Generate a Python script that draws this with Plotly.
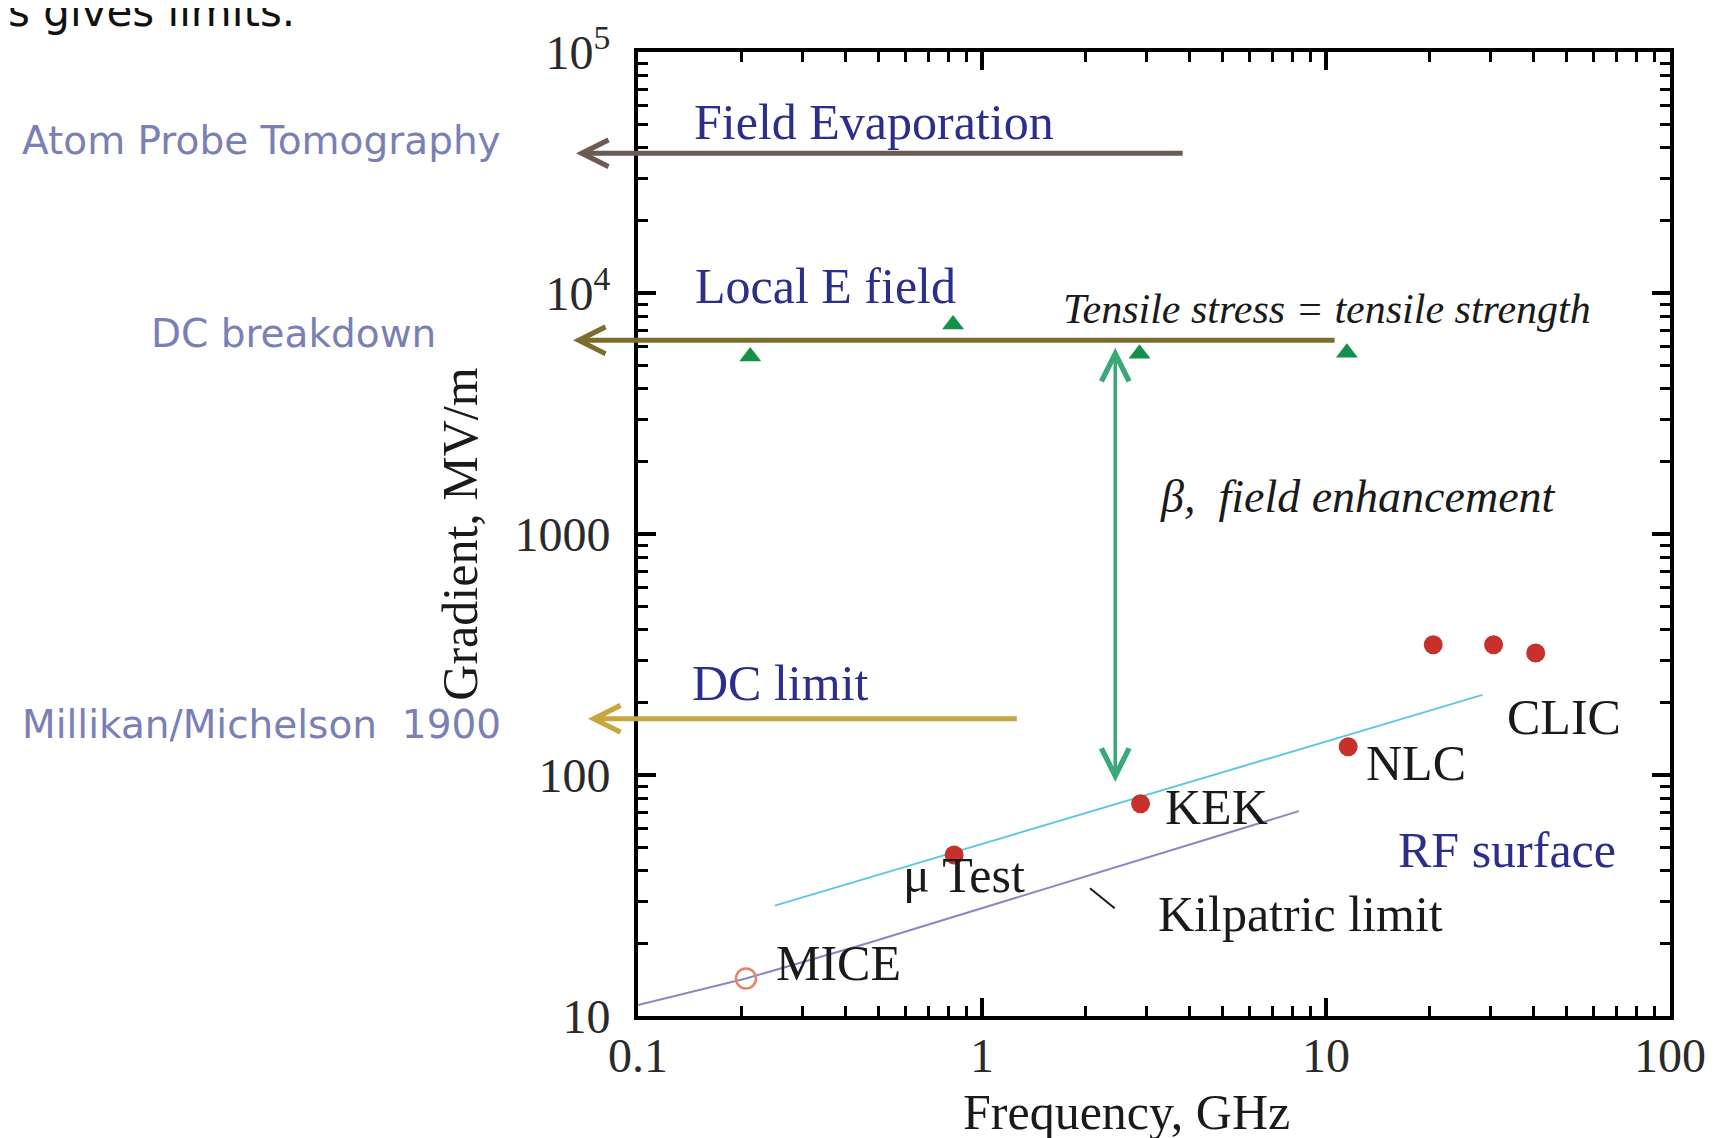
import math
import plotly.graph_objects as go

# ---------------- data ----------------
x_tick_vals = [0.1, 1, 10, 100]
x_tick_text = ["0.1", "1", "10", "100"]
y_tick_vals = [10, 100, 1000, 1e4, 1e5]
y_tick_text = ["10", "100", "1000", "10<sup>4</sup>", "10<sup>5</sup>"]

# RF accelerating structures (filled red dots), GHz / MV/m
rf_names = ["μ Test", "KEK", "NLC", "CLIC", "CLIC", "CLIC"]
rf_freq = [0.83, 2.89, 11.6, 20.5, 30.7, 40.7]
rf_grad = [46.6, 76, 131, 347, 347, 321]

# MICE (open circle)
mice_freq = [0.206]
mice_grad = [14.3]

# Local E field measurements (green triangles)
local_freq = [0.212, 0.824, 2.87, 11.5]
local_grad = [5450, 7400, 5600, 5650]

# RF surface trend line
rf_line_freq = [0.25, 28.5]
rf_line_grad = [28.7, 215]

# Kilpatric limit curve
kil_freq = [0.1, 0.206, 0.462, 1.84, 8.34]
kil_grad = [11.1, 14.3, 20.0, 36.6, 70.8]

# Kilpatric label leader tick
kil_leader_freq = [2.06, 2.43]
kil_leader_grad = [33.9, 28.0]

# Horizontal limits, drawn as arrows toward low frequency
limit_names = ["Field Evaporation", "Local E field", "DC limit"]
limit_grad = [38000, 6360, 171]
limit_fmax = [3.87, 10.7, 1.275]

# beta (field enhancement) double arrow
beta_freq = 2.44
beta_grad = [5930, 92.3]

# ---------------- layout / style ----------------
W, H = 1727, 1138
M = dict(l=630, r=65, t=44, b=130)
PW = W - M["l"] - M["r"]
PH = H - M["t"] - M["b"]
X_LOG_RANGE = [-1, 2]
Y_LOG_RANGE = [1, 5]

SERIF = "Liberation Serif, Times New Roman, serif"
HAND = "DejaVu Sans, sans-serif"
NAVY = "#2b2e8a"
SLATE = "#7a7fb6"
INK = "#1a1a1a"

limit_colors = ["#6e5a55", "#7d6d2c", "#c8a63c"]
limit_tip_px = [568, 565, 580]


def paper(px, py):
    return (px - M["l"]) / PW, (H - M["b"] - py) / PH


def px_to_logx(px):
    return X_LOG_RANGE[0] + (px - M["l"]) / PW * (X_LOG_RANGE[1] - X_LOG_RANGE[0])


fig = go.Figure()

fig.add_trace(go.Scatter(x=kil_freq, y=kil_grad, mode="lines",
                         line=dict(color="#8a88c4", width=2), showlegend=False))
fig.add_trace(go.Scatter(x=rf_line_freq, y=rf_line_grad, mode="lines",
                         line=dict(color="#62c6e0", width=2), showlegend=False))
fig.add_trace(go.Scatter(x=kil_leader_freq, y=kil_leader_grad, mode="lines",
                         line=dict(color=INK, width=2), showlegend=False))
fig.add_trace(go.Scatter(x=rf_freq, y=rf_grad, mode="markers", text=rf_names,
                         marker=dict(color="#c8302c", size=19), showlegend=False))
fig.add_trace(go.Scatter(x=mice_freq, y=mice_grad, mode="markers",
                         marker=dict(symbol="circle-open", color="#e8806e", size=20,
                                     line=dict(width=2.5)), showlegend=False))
fig.add_trace(go.Scatter(x=local_freq, y=local_grad, mode="markers",
                         marker=dict(symbol="triangle-up", color="#13904a", size=19),
                         showlegend=False))

annotations = []

# horizontal limit arrows
for g, fmax, col, tip in zip(limit_grad, limit_fmax, limit_colors, limit_tip_px):
    annotations.append(dict(
        x=px_to_logx(tip), y=math.log10(g), xref="x", yref="y",
        ax=math.log10(fmax), ay=math.log10(g), axref="x", ayref="y",
        text="", showarrow=True, arrowhead=5, arrowsize=1.05, arrowwidth=5,
        arrowcolor=col))

# beta double arrow
annotations.append(dict(
    x=math.log10(beta_freq), y=math.log10(beta_grad[0]), xref="x", yref="y",
    ax=math.log10(beta_freq), ay=math.log10(beta_grad[1]), axref="x", ayref="y",
    text="", showarrow=True, arrowhead=5, startarrowhead=5, arrowside="end+start",
    arrowsize=1.55, startarrowsize=1.55, arrowwidth=3.5, arrowcolor="#3aa878"))

# text labels: (text, left px, centre px, size, color, family)
labels = [
    ("Field Evaporation", 684, 114, 50, NAVY, SERIF),
    ("Local E field", 685, 278, 50, NAVY, SERIF),
    ("DC limit", 682, 675, 50, NAVY, SERIF),
    ("RF surface", 1388, 842, 50, NAVY, SERIF),
    ("<i>Tensile stress = tensile strength</i>", 1053, 301, 42, INK, SERIF),
    ("<i>β,\u00a0 field enhancement</i>", 1150, 488, 46, INK, SERIF),
    ("CLIC", 1497, 709, 50, INK, SERIF),
    ("NLC", 1356, 755, 50, INK, SERIF),
    ("KEK", 1155, 799, 50, INK, SERIF),
    ("μ Test", 893, 867, 50, INK, SERIF),
    ("Kilpatric limit", 1148, 906, 50, INK, SERIF),
    ("MICE", 766, 955, 50, INK, SERIF),
    ("Atom Probe Tomography", 12, 132, 39, SLATE, HAND),
    ("DC breakdown", 141, 326, 39, SLATE, HAND),
    ("Millikan/Michelson\u00a0 1900", 12, 716, 39, SLATE, HAND),
]
for txt, lx, cy, sz, col, fam in labels:
    px, py = paper(lx, cy)
    annotations.append(dict(x=px, y=py, xref="paper", yref="paper", text=txt,
                            showarrow=False, xanchor="left", yanchor="middle",
                            font=dict(family=fam, size=sz, color=col)))

# slide text cut at the top edge
px, py = paper(-2, 30)
annotations.append(dict(x=px, y=py, xref="paper", yref="paper", text="s gives limits.",
                        showarrow=False, xanchor="left", yanchor="bottom",
                        font=dict(family=HAND, size=42, color="#111111")))

# x-axis title
px, py = paper(1118, 1104)
annotations.append(dict(x=px, y=py, xref="paper", yref="paper", text="Frequency, GHz",
                        showarrow=False, xanchor="center", yanchor="middle",
                        font=dict(family=SERIF, size=50, color=INK)))

minor_x = [m * 10 ** d for d in range(-1, 2) for m in range(2, 10)]
minor_y = [m * 10 ** d for d in range(1, 5) for m in range(2, 10)]

axis_common = dict(
    type="log", showgrid=False, zeroline=False,
    showline=True, linecolor="black", linewidth=4, mirror="allticks",
    ticks="inside", ticklen=18, tickwidth=3.5, tickcolor="black",
    tickfont=dict(family=SERIF, size=48, color="#2a2a2a"),
)

fig.update_layout(
    width=W, height=H, margin=M,
    paper_bgcolor="white", plot_bgcolor="white",
    showlegend=False,
    xaxis=dict(range=X_LOG_RANGE, tickmode="array", tickvals=x_tick_vals,
               ticktext=x_tick_text, ticklabelstandoff=-6,
               minor=dict(tickmode="array", tickvals=minor_x, ticks="inside",
                          ticklen=10, tickwidth=3, tickcolor="black", showgrid=False),
               **axis_common),
    yaxis=dict(range=Y_LOG_RANGE, tickmode="array", tickvals=y_tick_vals,
               ticktext=y_tick_text, ticklabelstandoff=14,
               minor=dict(tickmode="array", tickvals=minor_y, ticks="inside",
                          ticklen=10, tickwidth=3, tickcolor="black", showgrid=False),
               title=dict(text="Gradient, MV/m", standoff=22,
                          font=dict(family=SERIF, size=50, color=INK)),
               **axis_common),
    annotations=annotations,
)

fig.write_html("out.html")
